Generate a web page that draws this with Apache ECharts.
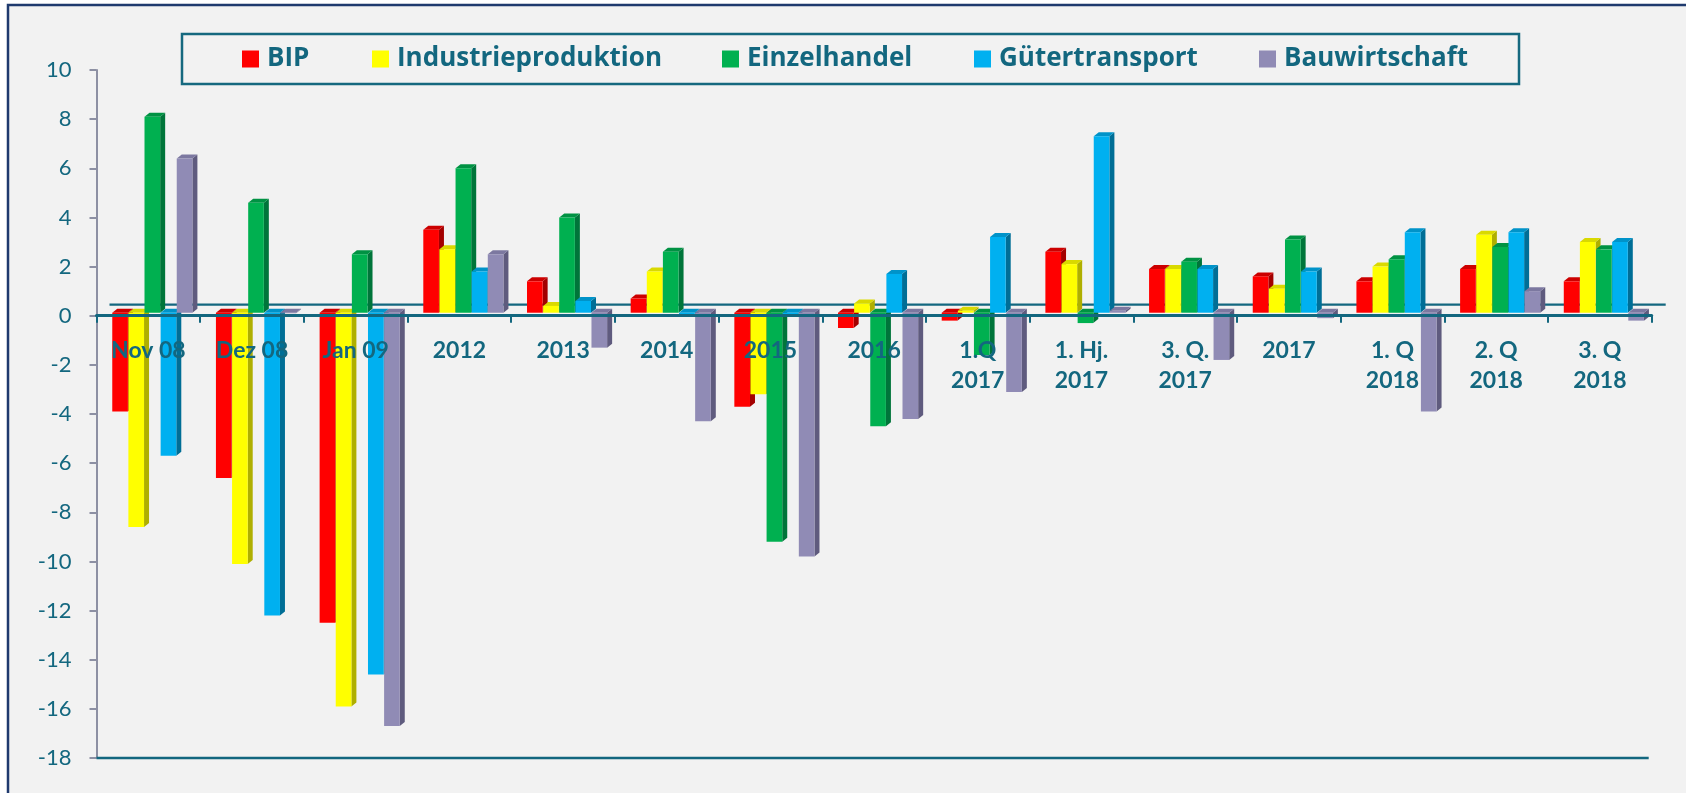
<!DOCTYPE html>
<html>
<head>
<meta charset="utf-8">
<script src="https://cdn.jsdelivr.net/npm/echarts@6/dist/echarts.min.js"></script>
<style>
  html, body { margin: 0; padding: 0; background: #ffffff; }
  #chart { width: 1686px; height: 793px; }
</style>
</head>
<body>
<div id="chart"></div>
<script>
const categories = ['Nov 08', 'Dez 08', 'Jan 09', '2012', '2013', '2014', '2015', '2016',
  '1.Q\n2017', '1. Hj.\n2017', '3. Q.\n2017', '2017', '1. Q\n2018', '2. Q\n2018', '3. Q\n2018'];
const seriesNames = ['BIP', 'Industrieproduktion', 'Einzelhandel', 'Gütertransport', 'Bauwirtschaft'];
const bip        = [-3.9, -6.6, -12.5, 3.5, 1.4, 0.7, -3.7, -0.5, -0.2, 2.6, 1.9, 1.6, 1.4, 1.9, 1.4];
const industrie  = [-8.6, -10.1, -15.9, 2.7, 0.4, 1.8, -3.2, 0.5, 0.2, 2.1, 1.9, 1.1, 2.0, 3.3, 3.0];
const einzel     = [8.1, 4.6, 2.5, 6.0, 4.0, 2.6, -9.2, -4.5, -1.6, -0.3, 2.2, 3.1, 2.3, 2.8, 2.7];
const gueter     = [-5.7, -12.2, -14.6, 1.8, 0.6, 0.0, 0.0, 1.7, 3.2, 7.3, 1.9, 1.8, 3.4, 3.4, 3.0];
const bau        = [6.4, 0.1, -16.7, 2.5, -1.3, -4.3, -9.8, -4.2, -3.1, 0.2, -1.8, -0.1, -3.9, 1.0, -0.2];
const yTicks = { min: -18, max: 10, interval: 2 };

const values = [bip, industrie, einzel, gueter, bau];
const faces = [
  { front: '#FF0000', side: '#A30000', top: '#CC0000' },
  { front: '#FFFF00', side: '#AFAF00', top: '#D9D900' },
  { front: '#00B050', side: '#00753A', top: '#009243' },
  { front: '#00B0F0', side: '#006E96', top: '#0093C9' },
  { front: '#908BB5', side: '#5F5B7E', top: '#7C78A0' }
];
const legendX = [242, 372, 722, 974, 1259];
const teal = '#13677F';

const gridTop = 70, gridBottom = 35, chartH = 793;
const plotH = chartH - gridTop - gridBottom;
// place the category axis (line, ticks, labels) on the value 0
const zeroOffset = -plotH * (0 - yTicks.min) / (yTicks.max - yTicks.min);

const chart = echarts.init(document.getElementById('chart'));

function makeRender(s) {
  return function (params, api) {
    const i = api.value(0), v = api.value(1);
    const c = api.coord([i, v]);
    const z0 = api.coord([i, 0]);
    const bw = api.size([1, 0])[0];
    const step = bw * 0.1555;
    const w = bw * 0.151;
    const left = c[0] - bw / 2 + bw * 0.152 + s * step;
    const dx = 5, dy = 4;
    const y0 = z0[1] - 3;
    const y1 = c[1];
    const top = Math.min(y0, y1), bottom = Math.max(y0, y1);
    const f = faces[s];
    return {
      type: 'group',
      children: [
        { type: 'polygon', shape: { points: [[left + w, top], [left + w + dx, top - dy], [left + w + dx, bottom - dy], [left + w, bottom]] },
          style: { fill: f.side } },
        { type: 'polygon', shape: { points: [[left, top], [left + dx, top - dy], [left + w + dx, top - dy], [left + w, top]] },
          style: { fill: f.top } },
        { type: 'rect', shape: { x: left, y: top, width: w, height: bottom - top },
          style: { fill: f.front } }
      ]
    };
  };
}

const series = values.map((arr, s) => ({
  name: seriesNames[s],
  type: 'custom',
  clip: false,
  z: 2,
  itemStyle: { color: faces[s].front },
  encode: { x: 0, y: 1 },
  renderItem: makeRender(s),
  data: arr.map((v, i) => [i, v])
}));

series.push({
  name: 'floor',
  type: 'custom',
  z: 1,
  clip: false,
  silent: true,
  encode: { x: 0, y: 1 },
  data: [[0, 0]],
  renderItem: function (params, api) {
    const cs = params.coordSys;
    const y = api.coord([0, 0])[1] - 11;
    const yb = cs.y + cs.height;
    return {
      type: 'group',
      children: [
        { type: 'line', shape: { x1: cs.x + 13, y1: y, x2: cs.x + cs.width + 14, y2: y },
          style: { stroke: teal, lineWidth: 2.2 } },
        { type: 'line', shape: { x1: cs.x, y1: yb, x2: cs.x + cs.width - 3, y2: yb },
          style: { stroke: teal, lineWidth: 2.5 } }
      ]
    };
  }
});

const legends = seriesNames.map((n, k) => ({
  data: [n],
  left: legendX[k],
  top: 44,
  padding: 0,
  icon: 'rect',
  itemWidth: 17,
  itemHeight: 17,
  selectedMode: false,
  textStyle: { fontFamily: 'Open Sans', fontWeight: 'bold', fontSize: 26, color: teal, lineHeight: 30, padding: [0, 0, 0, 3] }
}));

chart.setOption({
  animation: false,
  backgroundColor: 'transparent',
  graphic: [
    { type: 'rect', z: -10, shape: { x: 8, y: 5, width: 1700, height: 800 },
      style: { fill: '#F2F2F2', stroke: '#1F3A6E', lineWidth: 2.5 } },
    { type: 'rect', z: 50, shape: { x: 182, y: 34, width: 1337, height: 50 },
      style: { fill: 'none', stroke: '#16697F', lineWidth: 2.5 } }
  ],
  legend: legends,
  grid: { left: 96.5, right: 34.3, top: gridTop, bottom: gridBottom, containLabel: false, outerBoundsMode: 'none' },
  xAxis: {
    type: 'category',
    data: categories,
    position: 'bottom',
    offset: zeroOffset,
    z: 10,
    axisLine: { onZero: false, lineStyle: { color: teal, width: 3 } },
    axisTick: { show: true, length: 7, lineStyle: { color: teal, width: 2 } },
    axisLabel: { interval: 0, margin: 20, fontFamily: 'Lato', fontWeight: 'bold', fontSize: 23, color: teal, lineHeight: 30 },
    splitLine: { show: false }
  },
  yAxis: {
    type: 'value',
    min: yTicks.min,
    max: yTicks.max,
    interval: yTicks.interval,
    axisLine: { show: true, lineStyle: { color: '#8D90A3', width: 2 } },
    axisTick: { show: true, length: 7, lineStyle: { color: '#8D90A3', width: 2 } },
    axisLabel: { margin: 25, fontFamily: 'Lato', fontSize: 22, color: teal },
    splitLine: { show: false }
  },
  series: series
});
</script>
</body>
</html>
